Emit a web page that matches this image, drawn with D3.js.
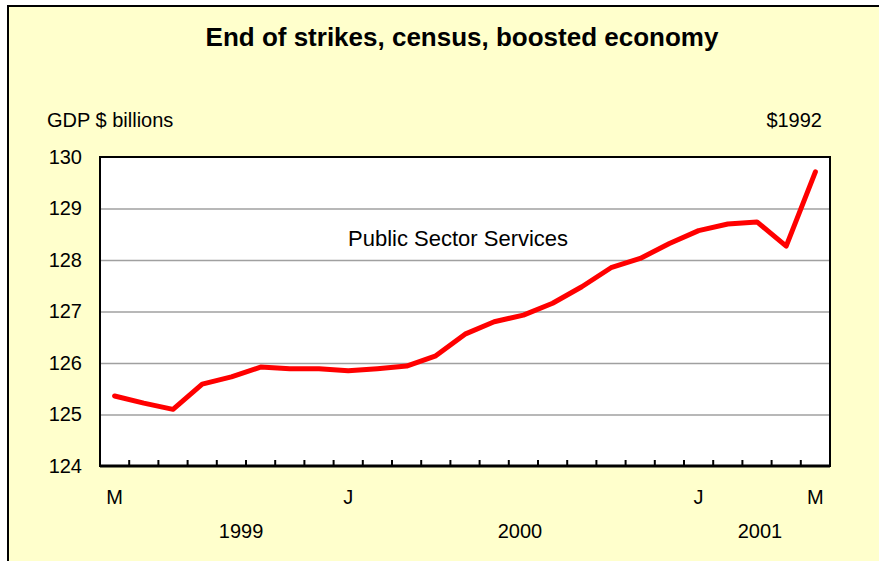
<!DOCTYPE html>
<html>
<head>
<meta charset="utf-8">
<script src="https://cdn.jsdelivr.net/npm/d3@7"></script>
<style>
  body { margin: 0; background: #fff; }
  svg { display: block; font-family: "Liberation Sans", Arial, sans-serif; }
</style>
</head>
<body>
<div id="chart"></div>
<script>
// monthly data, May 1999 to May 2001
const months = ['May 99', 'Jun 99', 'Jul 99', 'Aug 99', 'Sep 99', 'Oct 99', 'Nov 99', 'Dec 99',
  'Jan 00', 'Feb 00', 'Mar 00', 'Apr 00', 'May 00', 'Jun 00', 'Jul 00', 'Aug 00',
  'Sep 00', 'Oct 00', 'Nov 00', 'Dec 00', 'Jan 01', 'Feb 01', 'Mar 01', 'Apr 01', 'May 01'];
const monthLabels = ['M', '', '', '', '', '', '', '', 'J', '', '', '', '', '', '', '',
  '', '', '', '', 'J', '', '', '', 'M'];
const publicServices = [125.36, 125.22, 125.10, 125.59, 125.73, 125.92, 125.89, 125.89,
  125.85, 125.89, 125.94, 126.14, 126.56, 126.80, 126.93, 127.16, 127.48, 127.85,
  128.03, 128.32, 128.57, 128.70, 128.74, 128.27, 129.71];
const yTicks = [124, 125, 126, 127, 128, 129, 130];
const yearLabels = ['1999', '2000', '2001'];
// where each year label sits, in category units along the axis
const yearLabelAt = [4.83, 14.38, 22.6];

const W = 879, H = 561;
const margin = {top: 157, right: 49, bottom: 95, left: 100};
const width = W - margin.left - margin.right;
const height = H - margin.top - margin.bottom;

const svg = d3.select('#chart').append('svg')
  .attr('width', W)
  .attr('height', H);

// chart area background with border
svg.append('rect')
  .attr('x', 8).attr('y', 6)
  .attr('width', W + 20).attr('height', H + 20)
  .attr('fill', '#ffffcc')
  .attr('stroke', '#000')
  .attr('stroke-width', 2);

// title
svg.append('text')
  .attr('x', 462).attr('y', 46)
  .attr('text-anchor', 'middle')
  .attr('font-size', 26)
  .attr('font-weight', 'bold')
  .text('End of strikes, census, boosted economy');

svg.append('text')
  .attr('x', 47).attr('y', 127)
  .attr('font-size', 20)
  .text('GDP $ billions');

svg.append('text')
  .attr('x', 822).attr('y', 127)
  .attr('text-anchor', 'end')
  .attr('font-size', 20)
  .text('$1992');

const g = svg.append('g')
  .attr('transform', 'translate(' + margin.left + ',' + margin.top + ')');

const x = d3.scaleBand().domain(d3.range(months.length)).range([0, width]);
const y = d3.scaleLinear().domain([124, 130]).range([height, 0]);

// plot area
g.append('rect')
  .attr('width', width).attr('height', height)
  .attr('fill', '#fff');

// gridlines
g.append('g')
  .call(d3.axisLeft(y)
    .tickValues(yTicks.slice(1, -1))
    .tickSize(-width)
    .tickFormat(''))
  .call(a => a.select('.domain').remove())
  .selectAll('line')
  .attr('stroke', '#a0a0a0')
  .attr('stroke-width', 1.5);

// y axis labels
g.append('g')
  .call(d3.axisLeft(y).tickValues(yTicks).tickSize(0).tickPadding(18).tickFormat(d3.format('d')))
  .call(a => a.select('.domain').remove())
  .selectAll('text')
  .attr('font-family', '"Liberation Sans", Arial, sans-serif')
  .attr('font-size', 20)
  .attr('fill', '#000');

// plot border
g.append('rect')
  .attr('width', width).attr('height', height)
  .attr('fill', 'none')
  .attr('stroke', '#000')
  .attr('stroke-width', 2);

g.append('line')
  .attr('x1', 0).attr('x2', width)
  .attr('y1', height).attr('y2', height)
  .attr('stroke', '#000')
  .attr('stroke-width', 3);

// inside tick marks between categories
g.append('g')
  .selectAll('line')
  .data(d3.range(1, months.length))
  .enter().append('line')
  .attr('x1', d => x(d)).attr('x2', d => x(d))
  .attr('y1', height).attr('y2', height - 6)
  .attr('stroke', '#000')
  .attr('stroke-width', 2);

// month letters
g.append('g')
  .selectAll('text')
  .data(monthLabels)
  .enter().append('text')
  .attr('x', (d, i) => x(i) + x.bandwidth() / 2)
  .attr('y', height + 38)
  .attr('text-anchor', 'middle')
  .attr('font-size', 20)
  .text(d => d);

// year labels
g.append('g')
  .selectAll('text')
  .data(yearLabels)
  .enter().append('text')
  .attr('x', (d, i) => x.range()[0] + yearLabelAt[i] * x.step())
  .attr('y', height + 72)
  .attr('text-anchor', 'middle')
  .attr('font-size', 20)
  .text(d => d);

// series line
const line = d3.line()
  .x((d, i) => x(i) + x.bandwidth() / 2)
  .y(d => y(d));

g.append('path')
  .datum(publicServices)
  .attr('d', line)
  .attr('fill', 'none')
  .attr('stroke', '#ff0000')
  .attr('stroke-width', 5)
  .attr('stroke-linejoin', 'round')
  .attr('stroke-linecap', 'round');

g.append('text')
  .attr('x', 248).attr('y', 89)
  .attr('font-size', 22)
  .text('Public Sector Services');
</script>
</body>
</html>
